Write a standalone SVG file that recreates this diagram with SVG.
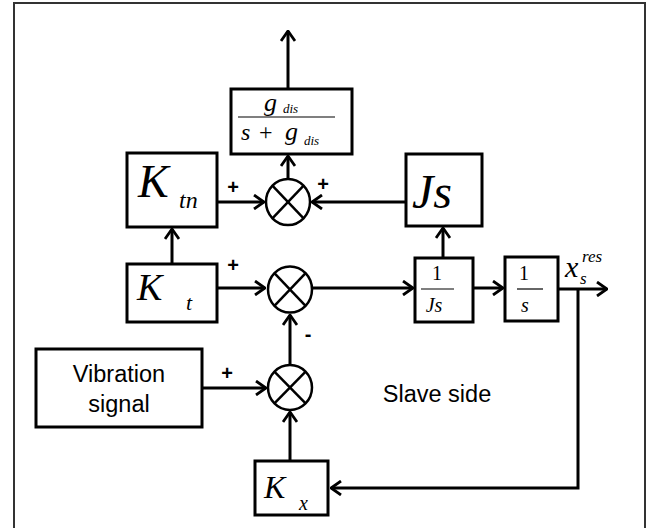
<svg xmlns="http://www.w3.org/2000/svg" width="651" height="528" viewBox="0 0 651 528">
<style>
.box{fill:#fff;stroke:#000;stroke-width:3}
.sum{fill:#fff;stroke:#000;stroke-width:2.5}
.cross{stroke:#000;stroke-width:2.5}
.wire{fill:none;stroke:#000;stroke-width:3}
.m{font-family:"Liberation Serif",serif;font-style:italic;fill:#000}
.r{font-family:"Liberation Serif",serif;fill:#000}
.t{font-family:"Liberation Sans",Arial,sans-serif;fill:#000}
.sg{font-family:"Liberation Sans",Arial,sans-serif;font-weight:bold;font-size:20px;fill:#000;text-anchor:middle}
.fl{stroke:#000;stroke-width:1.2}
</style>
<defs>
<marker id="ah" viewBox="0 0 12 16" refX="11" refY="8" markerWidth="12" markerHeight="16" markerUnits="userSpaceOnUse" orient="auto">
<path d="M1,1 L11,8 L1,15" fill="none" stroke="#000" stroke-width="2.8"/>
</marker>
</defs>
<rect x="14" y="3" width="631" height="540" fill="none" stroke="#333" stroke-width="2"/>

<g id="connectors">
<line class="wire" x1="288" y1="89" x2="288" y2="31" marker-end="url(#ah)"/>
<line class="wire" x1="288" y1="180" x2="288" y2="156" marker-end="url(#ah)"/>
<line class="wire" x1="217" y1="202" x2="264" y2="202" marker-end="url(#ah)"/>
<line class="wire" x1="406" y1="202" x2="312" y2="202" marker-end="url(#ah)"/>
<line class="wire" x1="172" y1="264" x2="172" y2="229" marker-end="url(#ah)"/>
<line class="wire" x1="217" y1="288" x2="265" y2="288" marker-end="url(#ah)"/>
<line class="wire" x1="312" y1="288" x2="413" y2="288" marker-end="url(#ah)"/>
<line class="wire" x1="443" y1="258" x2="443" y2="228" marker-end="url(#ah)"/>
<line class="wire" x1="473" y1="288" x2="503" y2="288" marker-end="url(#ah)"/>
<line class="wire" x1="558" y1="289" x2="607" y2="289" marker-end="url(#ah)"/>
<polyline class="wire" points="578,289 578,488 331,488" marker-end="url(#ah)"/>
<line class="wire" x1="290" y1="365" x2="290" y2="315" marker-end="url(#ah)"/>
<line class="wire" x1="290" y1="461" x2="290" y2="412" marker-end="url(#ah)"/>
<line class="wire" x1="202" y1="388" x2="266" y2="388" marker-end="url(#ah)"/>
</g>

<g id="lpf">
<rect class="box" x="231" y="89" width="121" height="65"/>
<line class="fl" x1="238" y1="117" x2="335" y2="117"/>
<text class="m" x="264" y="111" font-size="26">g</text>
<text class="m" x="283" y="113" font-size="13">dis</text>
<text class="m" x="241" y="140" font-size="24">s</text>
<text class="r" x="259" y="140" font-size="24">+</text>
<text class="m" x="285" y="140" font-size="26">g</text>
<text class="m" x="304" y="145" font-size="13">dis</text>
</g>

<g id="sum1">
<ellipse class="sum" cx="288" cy="202" rx="22" ry="23"/>
<line class="cross" x1="272.4" y1="185.7" x2="303.6" y2="218.3"/>
<line class="cross" x1="303.6" y1="185.7" x2="272.4" y2="218.3"/>
</g>
<g id="sum2">
<ellipse class="sum" cx="290" cy="289.5" rx="22" ry="23"/>
<line class="cross" x1="274.4" y1="273.2" x2="305.6" y2="305.8"/>
<line class="cross" x1="305.6" y1="273.2" x2="274.4" y2="305.8"/>
</g>
<g id="sum3">
<ellipse class="sum" cx="290" cy="387.5" rx="22" ry="22.5"/>
<line class="cross" x1="274.4" y1="371.6" x2="305.6" y2="403.4"/>
<line class="cross" x1="305.6" y1="371.6" x2="274.4" y2="403.4"/>
</g>

<g id="ktn">
<rect class="box" x="127" y="153" width="90" height="74"/>
<text class="m" x="138" y="197" font-size="46">K</text>
<text class="m" x="179" y="208" font-size="24">tn</text>
</g>
<g id="kt">
<rect class="box" x="127" y="264" width="90" height="58"/>
<text class="m" x="137" y="300" font-size="38">K</text>
<text class="m" x="186" y="310" font-size="22">t</text>
</g>
<g id="js">
<rect class="box" x="406" y="154" width="76" height="72"/>
<text class="m" x="412" y="208" font-size="48">Js</text>
</g>
<g id="invjs">
<rect class="box" x="415" y="258" width="58" height="64"/>
<text class="r" x="437" y="280" font-size="20" text-anchor="middle">1</text>
<line class="fl" x1="421" y1="289" x2="454" y2="289"/>
<text class="m" x="434" y="312" font-size="20" text-anchor="middle">Js</text>
</g>
<g id="invs">
<rect class="box" x="505" y="257" width="53" height="64"/>
<text class="r" x="524" y="280" font-size="20" text-anchor="middle">1</text>
<line class="fl" x1="517" y1="289" x2="543" y2="289"/>
<text class="m" x="525" y="312" font-size="20" text-anchor="middle">s</text>
</g>
<g id="xres">
<text class="m" x="565" y="277" font-size="30">x</text>
<text class="m" x="582" y="262" font-size="17">res</text>
<text class="m" x="580" y="284" font-size="17">s</text>
</g>
<g id="vib">
<rect class="box" x="36" y="349" width="166" height="78"/>
<text class="t" x="119" y="382" font-size="23.5" text-anchor="middle">Vibration</text>
<text class="t" x="119" y="412" font-size="23.5" text-anchor="middle">signal</text>
</g>
<g id="kx">
<rect class="box" x="255" y="461" width="73" height="54"/>
<text class="m" x="264" y="498" font-size="32">K</text>
<text class="m" x="299" y="510" font-size="20">x</text>
</g>
<g id="labels">
<text class="sg" x="233" y="194">+</text>
<text class="sg" x="323" y="191">+</text>
<text class="sg" x="233" y="272">+</text>
<text class="sg" x="308" y="341">-</text>
<text class="sg" x="227" y="380">+</text>
<text class="t" x="437" y="402" font-size="23.5" text-anchor="middle">Slave side</text>
</g>
</svg>
